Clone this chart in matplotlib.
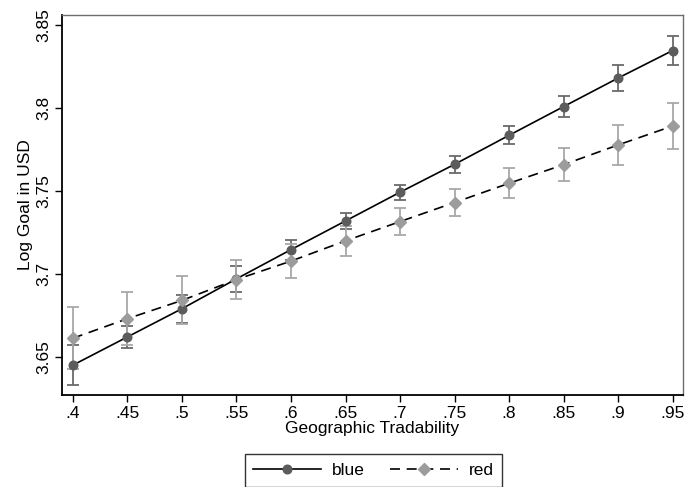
import numpy as np
import matplotlib.pyplot as plt

plt.rcParams['font.family'] = ['Liberation Sans', 'DejaVu Sans']

# ---- data ----
tradability = [0.40, 0.45, 0.50, 0.55, 0.60, 0.65, 0.70, 0.75, 0.80, 0.85, 0.90, 0.95]
blue_mean = [3.645, 3.662, 3.679, 3.697, 3.7146, 3.7319, 3.7492, 3.766, 3.7835, 3.8008, 3.818, 3.8346]
blue_err = [0.012, 0.0065, 0.0085, 0.0077, 0.006, 0.005, 0.0045, 0.005, 0.0055, 0.0065, 0.0078, 0.009]
red_mean = [3.6612, 3.673, 3.684, 3.6966, 3.7077, 3.7199, 3.7315, 3.743, 3.7546, 3.7658, 3.7777, 3.7891]
red_err = [0.0187, 0.016, 0.0145, 0.012, 0.010, 0.009, 0.0082, 0.008, 0.009, 0.010, 0.0118, 0.0136]

xticks = [0.40, 0.45, 0.50, 0.55, 0.60, 0.65, 0.70, 0.75, 0.80, 0.85, 0.90, 0.95]
xtick_labels = [".4", ".45", ".5", ".55", ".6", ".65", ".7", ".75", ".8", ".85", ".9", ".95"]
yticks = [3.65, 3.70, 3.75, 3.80, 3.85]
ytick_labels = ["3.65", "3.7", "3.75", "3.8", "3.85"]

FS = 12.5

fig = plt.figure(figsize=(6.85, 4.87), dpi=100)
ax = fig.add_axes([62 / 685, 1 - 395 / 487, (683 - 62) / 685, (395 - 15) / 487])

# error bars first, then lines with markers on top
ax.errorbar(tradability, blue_mean, yerr=blue_err, fmt="none", ecolor="#6a6a6a",
            elinewidth=1.3, capsize=4, capthick=1.3, zorder=2)
ax.errorbar(tradability, red_mean, yerr=red_err, fmt="none", ecolor="#a8a8a8",
            elinewidth=1.3, capsize=4, capthick=1.3, zorder=2)

ax.plot(tradability, blue_mean, color="black", lw=1.2, marker="o", ms=6.2,
        mfc="#5c5c5c", mec="#5c5c5c", label="blue", zorder=3)
ax.plot(tradability, red_mean, color="black", lw=1.2, ls=(0, (6, 4)), marker="D", ms=6.5,
        mfc="#9c9c9c", mec="#9c9c9c", label="red", zorder=3)

ax.set_xlim(0.39, 0.9595)
ax.set_ylim(3.627, 3.856)
ax.set_xticks(xticks)
ax.set_xticklabels(xtick_labels)
ax.set_yticks(yticks)
ax.set_yticklabels(ytick_labels, rotation=90, va="center")
ax.tick_params(labelsize=FS, length=5, width=1, color="black", pad=3)

ax.set_xlabel("Geographic Tradability", fontsize=FS, labelpad=0)
ax.set_ylabel("Log Goal in USD", fontsize=FS, labelpad=2)

for side in ["left", "bottom"]:
    ax.spines[side].set_color("black")
    ax.spines[side].set_linewidth(1.3)
for side in ["top", "right"]:
    ax.spines[side].set_color("#6e6e6e")
    ax.spines[side].set_linewidth(1.0)

leg = fig.legend(loc="upper center", bbox_to_anchor=(373.5 / 685, 1 - 454 / 487), ncol=2,
                 fontsize=FS, frameon=True, fancybox=False, handlelength=3.9,
                 columnspacing=1.5, handletextpad=0.6, borderpad=0.5, borderaxespad=0)
leg.get_frame().set_edgecolor("black")
leg.get_frame().set_linewidth(1.0)

fig.savefig("out.png", dpi=100)
